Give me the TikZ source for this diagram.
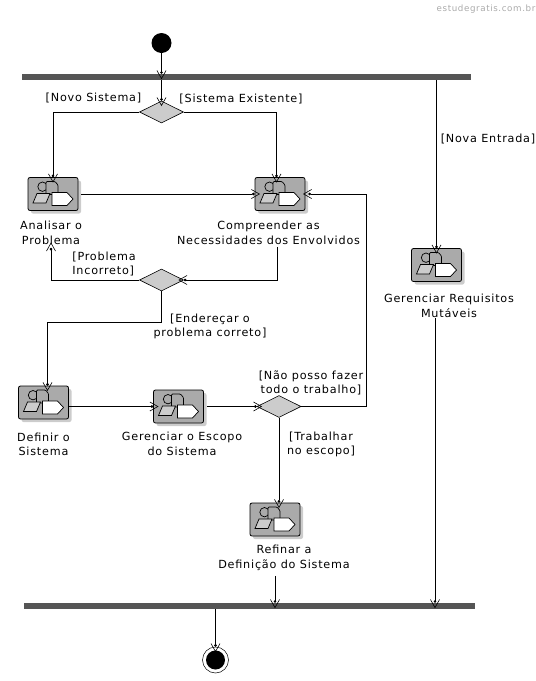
\documentclass[tikz,border=0pt]{standalone}
\usepackage{fontspec}
\usepackage{xcolor}
\usepackage{tikz}
\usetikzlibrary{arrows.meta,positioning,shadows,shapes.geometric}
\setmainfont[LetterSpace=7]{DejaVu Sans}
\definecolor{barcolor}{RGB}{85,85,85}
\definecolor{boxgray}{RGB}{170,170,170}
\definecolor{diagray}{RGB}{204,204,204}
\definecolor{markgray}{RGB}{170,170,170}

\begin{document}
\begin{tikzpicture}[
    x=1pt,y=-1pt,on grid,
    font=\fontsize{11.2}{14.5}\selectfont,
    activity/.style={draw,rounded corners=2pt,minimum width=50pt,minimum height=33pt,inner sep=0pt,fill=boxgray,line width=.8pt,drop shadow={shadow xshift=3pt,shadow yshift=-3pt,fill=diagray,opacity=1}},
    decision/.style={draw,diamond,aspect=2,minimum width=44pt,minimum height=22pt,inner sep=0pt,fill=diagray,line width=.6pt},
    bar/.style={fill=barcolor,minimum height=6pt,inner sep=0pt},
    caption/.style={align=center,inner sep=0pt},
    arrow/.style={-{Straight Barb[length=8pt,width=9pt,line width=.6pt,sep=-8pt]Circle[length=2.6pt]},line width=.8pt},
    pics/icone/.style={code={
      \draw[fill=boxgray,line width=.7pt] (-10.5,-7.3) circle (4.7);
      \draw[fill=boxgray,line width=.7pt,rounded corners=1pt] (-7,.5) -- (-7,-12.5) -- (2,-12.5) -- (5,-9) -- (5,.5) -- cycle;
      \draw[fill=diagray,line width=.7pt] (-20,9) -- (-7,9) -- (-3,-.5) -- (-16,-.5) -- cycle;
      \draw[fill=white,line width=.7pt] (-1,-1.5) -- (14,-1.5) -- (20,5) -- (14,11.5) -- (-1,11.5) -- cycle;
    }}
  ]
    \useasboundingbox (0,0) rectangle (536,681);

    \node[circle,fill=black,minimum size=20pt,inner sep=0pt] (inicio) at (161.5,43) {};
    \node[bar,minimum width=449pt,below right=34pt and 85pt of inicio] (topbar) {};
    \node[decision,below=69pt of inicio] (dec1) {};
    \node[activity,below left=82pt and 108.5pt of dec1] (analisar) {};
    \node[activity,below right=82pt and 118.5pt of dec1] (compreender) {};
    \node[decision,below=168pt of dec1] (dec2) {};
    \node[activity,below left=122.5pt and 118pt of dec2] (definir) {};
    \node[activity,below right=4pt and 135pt of definir] (escopo) {};
    \node[decision,right=100.5pt of escopo] (dec3) {};
    \node[activity,below left=113pt and 4pt of dec3] (refinar) {};
    \node[activity,below right=188pt and 190pt of topbar] (requisitos) {};
    \node[bar,minimum width=451pt,below left=86.5pt and 25.5pt of refinar] (bottombar) {};
    \node[circle,draw,line width=.5pt,minimum size=26pt,inner sep=0pt,below left=54pt and 34pt of bottombar] (fim) {};
    \node[circle,fill=black,minimum size=19pt,inner sep=0pt] (fimdot) at (fim) {};

    \foreach \ativ in {analisar,compreender,definir,escopo,refinar,requisitos}
      \pic at (\ativ) {icone};

    \node[caption,below left=39pt and 2pt of analisar] (analisarlbl) {Analisar o\\Problema};
    \node[caption,below left=39pt and 11.5pt of compreender] (compreenderlbl) {Compreender as\\Necessidades dos Envolvidos};
    \node[caption,below=42pt of definir] (definirlbl) {Definir o\\Sistema};
    \node[caption,below right=37.5pt and 3.5pt of escopo] (escopolbl) {Gerenciar o Escopo\\do Sistema};
    \node[caption,below right=38.5pt and 9pt of refinar] (refinarlbl) {Refinar a\\Definição do Sistema};
    \node[caption,below right=41pt and 12.5pt of requisitos] (requisitoslbl) {Gerenciar Requisitos\\Mutáveis};

    \node[caption,above left=14pt and 68pt of dec1] (novo) {[Novo Sistema]};
    \node[caption,above right=13pt and 79.5pt of dec1] (existente) {[Sistema Existente]};
    \node[caption,below right=62pt and 241.5pt of topbar] (entrada) {[Nova Entrada]};
    \node[caption,align=left,above left=16pt and 57.5pt of dec2] (incorreto) {[Problema\\Incorreto]};
    \node[caption,below right=46.5pt and 48.5pt of dec2] (correto) {[Endereçar o\\problema correto]};
    \node[caption,above right=23.5pt and 32pt of dec3] (naoposso) {[Não posso fazer\\todo o trabalho]};
    \node[caption,below right=38pt and 42pt of dec3] (trabalhar) {[Trabalhar\\no escopo]};
    \node[caption,text=markgray,font=\fontsize{8.7}{10}\selectfont] (site) at (486,9) {estudegratis.com.br};

    \coordinate[below=31pt of dec2.south] (dobra);
    \coordinate[right=61pt of compreender.east] (retorno);
    \coordinate (compreendersai) at ([xshift=9pt,yshift=-2pt]compreenderlbl.south);
    \coordinate (refinarsai) at ([xshift=-9pt,yshift=-5pt]refinarlbl.south);
    \coordinate (requisitossai) at ([xshift=-14pt]requisitoslbl.south);

    \draw[arrow] (inicio) -- (inicio |- topbar.north);
    \draw[arrow] (inicio |- topbar.south) -- (dec1.north);
    \draw[arrow] (dec1.west) -| (analisar.north);
    \draw[arrow] (dec1.east) -| ([xshift=-3.5pt]compreender.north);
    \draw[arrow,shorten <=3pt] (analisar) -- (compreender);
    \draw[arrow] (compreendersai) |- (dec2.east);
    \draw[arrow] (dec2.west) -| ([yshift=-3pt]analisarlbl.south);
    \draw[arrow] (dec2.south) -- (dobra) -| ([xshift=4pt]definir.north);
    \draw[arrow] (definir.east |- escopo.west) -- (escopo.west);
    \draw[arrow,shorten <=3pt] (escopo.east) -- (dec3.west);
    \draw[arrow] (dec3.east) -| (retorno) -- ([xshift=3pt]compreender.east);
    \draw[arrow] (dec3.south) -- (dec3.south |- refinar.north);
    \draw[arrow] (refinarsai) -- (refinarsai |- bottombar.north);
    \draw[arrow] (requisitos |- topbar.south) -- (requisitos.north);
    \draw[arrow] (requisitossai) -- (requisitossai |- bottombar.north);
    \draw[arrow] (fim |- bottombar.south) -- (fim.north);
  \end{tikzpicture}
\end{document}
